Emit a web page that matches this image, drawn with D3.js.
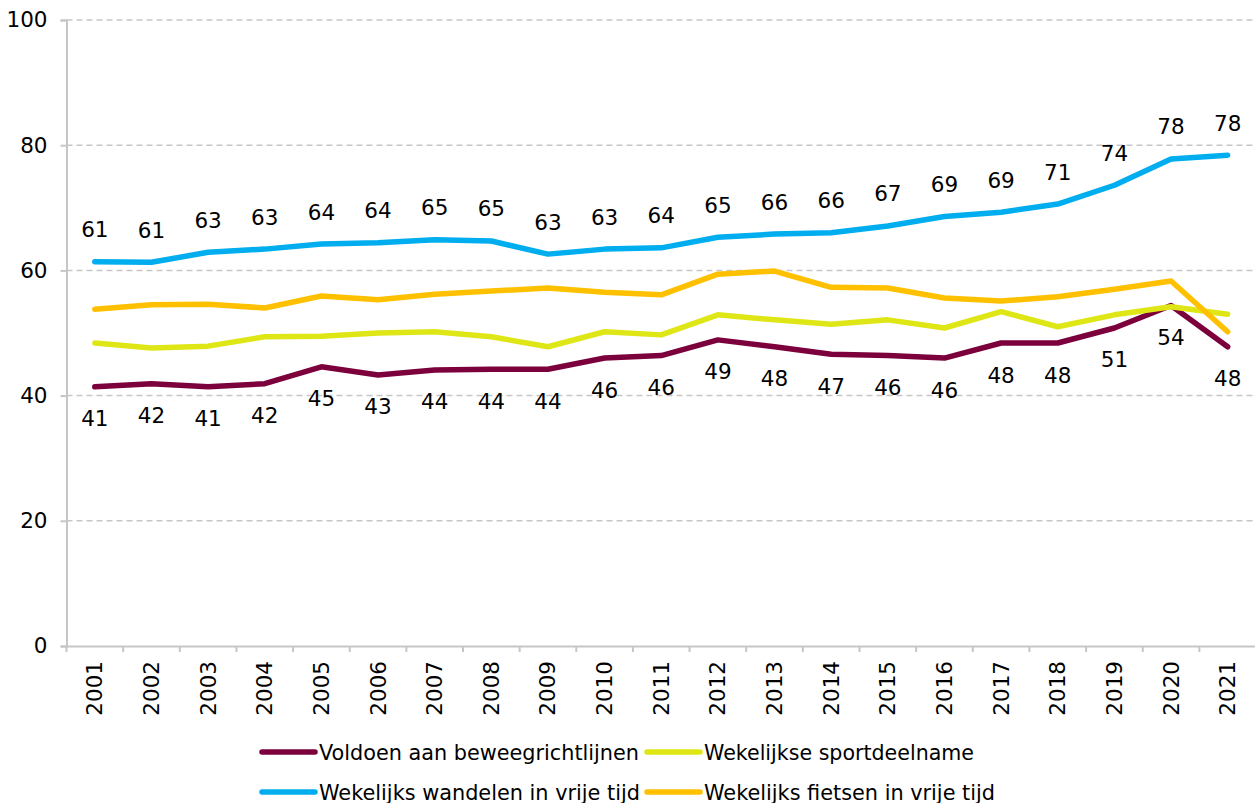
<!DOCTYPE html>
<html><head><meta charset="utf-8">
<script src="https://cdn.jsdelivr.net/npm/d3@7"></script>
<style>body{margin:0;background:#fff}svg{display:block;font-family:"DejaVu Sans",sans-serif}</style>
</head><body><svg id="c" width="1255" height="803"></svg>
<script>
const years = ["2001","2002","2003","2004","2005","2006","2007","2008","2009","2010","2011","2012","2013","2014","2015","2016","2017","2018","2019","2020","2021"];
const beweeg = [41.4,41.9,41.4,41.9,44.6,43.3,44.1,44.2,44.2,46.0,46.4,48.9,47.8,46.6,46.4,46.0,48.4,48.4,50.8,54.4,47.8];
const sport = [48.4,47.6,47.9,49.4,49.5,50.0,50.2,49.4,47.8,50.2,49.7,52.9,52.1,51.4,52.1,50.8,53.4,51.0,52.9,54.2,53.0];
const wandelen = [61.4,61.3,62.9,63.4,64.2,64.4,64.9,64.7,62.6,63.4,63.6,65.3,65.8,66.0,67.1,68.6,69.3,70.6,73.6,77.8,78.4];
const fietsen = [53.8,54.5,54.6,54.0,55.9,55.3,56.2,56.7,57.2,56.5,56.1,59.4,59.9,57.3,57.2,55.6,55.1,55.8,57.0,58.3,50.2];
const yTicks = [0,20,40,60,80,100];
const seriesNames = ["Voldoen aan beweegrichtlijnen","Wekelijkse sportdeelname","Wekelijks wandelen in vrije tijd","Wekelijks fietsen in vrije tijd"];
const colors = ["#7b003c","#dfe616","#00adef","#ffc000"];

const svg = d3.select("#c");
const L = 66.5, R = 1256, T = 20, B = 646;
const x = d3.scaleBand().domain(years).range([L, R]);
const y = d3.scaleLinear().domain([0,100]).range([B, T]);
const FS = "21.5px";

svg.append("g").selectAll("line").data(yTicks.filter(d=>d>0)).join("line")
  .attr("x1", L).attr("x2", R).attr("y1", d=>y(d)).attr("y2", d=>y(d))
  .attr("stroke","#c6c6c6").attr("stroke-width",1.5).attr("stroke-dasharray","6,4");

const ya = svg.append("g").attr("transform",`translate(${L},0)`)
  .call(d3.axisLeft(y).tickValues(yTicks).tickSize(6).tickPadding(13));
ya.select(".domain").attr("stroke","#c6c6c6").attr("stroke-width",2);
ya.selectAll(".tick line").attr("stroke","#c6c6c6").attr("stroke-width",2);
ya.selectAll("text").attr("font-size",FS).attr("fill","#000");
ya.attr("font-family",null);

const xa = svg.append("g").attr("transform",`translate(0,${B})`)
  .call(d3.axisBottom(x).tickSize(0).tickSizeOuter(0));
xa.select(".domain").attr("stroke","#c6c6c6").attr("stroke-width",2);
xa.selectAll(".tick text").attr("font-size",FS).attr("fill","#000")
  .attr("transform","rotate(-90)").attr("text-anchor","end").attr("x",-15).attr("y",0).attr("dy","0.35em");
xa.attr("font-family",null);
svg.append("g").selectAll("line").data(years).join("line")
  .attr("x1",d=>x(d)).attr("x2",d=>x(d)).attr("y1",B).attr("y2",B+6)
  .attr("stroke","#c6c6c6").attr("stroke-width",2);

const all = [beweeg, sport, wandelen, fietsen];
const line = d3.line().x((d,i)=>x(years[i])+x.bandwidth()/2).y(d=>y(d));
all.forEach((s,k)=>{
  svg.append("path").datum(s).attr("d",line).attr("fill","none")
    .attr("stroke",colors[k]).attr("stroke-width",5.5).attr("stroke-linejoin","round").attr("stroke-linecap","round");
});

function labels(s, dy){
  svg.append("g").selectAll("text").data(s).join("text")
    .attr("x",(d,i)=>x(years[i])+x.bandwidth()/2).attr("y",d=>y(d)+dy)
    .attr("text-anchor","middle").attr("dominant-baseline","central")
    .attr("font-size",FS).attr("fill","#000").text(d=>Math.round(d));
}
labels(wandelen,-32);
labels(beweeg,32);

const leg = [[0,262,752,320],[1,647,752,270],[2,262,792,321],[3,647,792,291]];
leg.forEach(([k,lx,ly,w])=>{
  svg.append("line").attr("x1",lx).attr("x2",lx+53).attr("y1",ly).attr("y2",ly)
    .attr("stroke",colors[k]).attr("stroke-width",5.5).attr("stroke-linecap","round");
  svg.append("text").attr("x",lx+57).attr("y",ly).attr("dominant-baseline","central")
    .attr("font-size","21.5px").attr("fill","#000")
    .attr("textLength",w).attr("lengthAdjust","spacingAndGlyphs").text(seriesNames[k]);
});
</script></body></html>
